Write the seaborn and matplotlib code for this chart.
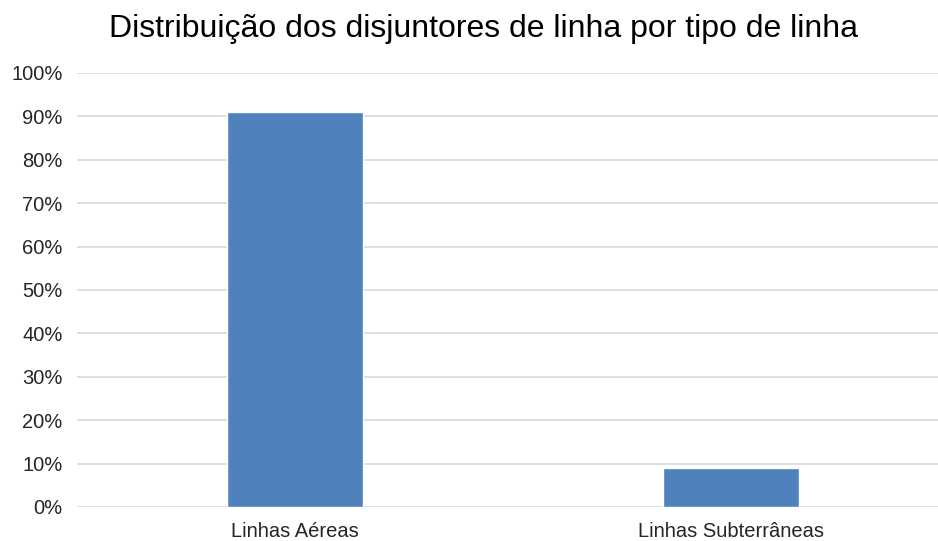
import matplotlib
matplotlib.use("Agg")
import matplotlib.pyplot as plt
import seaborn as sns
import pandas as pd
from matplotlib.ticker import PercentFormatter, MultipleLocator
from matplotlib import font_manager

categories = ["Linhas Aéreas", "Linhas Subterrâneas"]
values = [0.91, 0.09]
title = "Distribuição dos disjuntores de linha por tipo de linha"

sns.set_style("white")
names = {f.name for f in font_manager.fontManager.ttflist}
fam = "Liberation Sans Narrow" if "Liberation Sans Narrow" in names else "Liberation Sans"
plt.rcParams["font.family"] = [fam, "DejaVu Sans"]

df = pd.DataFrame({"cat": categories, "val": values})

fig = plt.figure(figsize=(9.38, 5.41), dpi=100)
ax = fig.add_axes([77/938, (541-507)/541, 1 - 77/938, (507-73)/541])
sns.barplot(data=df, x="cat", y="val", color="#4F81BD", width=0.3125, ax=ax, saturation=1)

ax.set_xlim(-0.5, 1.5 - 11/435)
ax.set_ylim(0, 1)
ax.yaxis.set_major_locator(MultipleLocator(0.1))
ax.yaxis.set_major_formatter(PercentFormatter(1.0, decimals=0))
ax.grid(axis="y", color="#D9D9D9", linewidth=1.2)
ax.set_axisbelow(True)
for s in ax.spines.values():
    s.set_visible(False)
ax.set_xlabel("")
ax.set_ylabel("")
ax.tick_params(axis="both", length=0, labelsize=14.5, colors="#262626")
ax.tick_params(axis="y", pad=10.5)
ax.tick_params(axis="x", pad=11)

fig.text(483/938, 1 - 29/541, title, ha="center", va="center", fontsize=23, color="#000000")

fig.savefig("out.png", dpi=100)
